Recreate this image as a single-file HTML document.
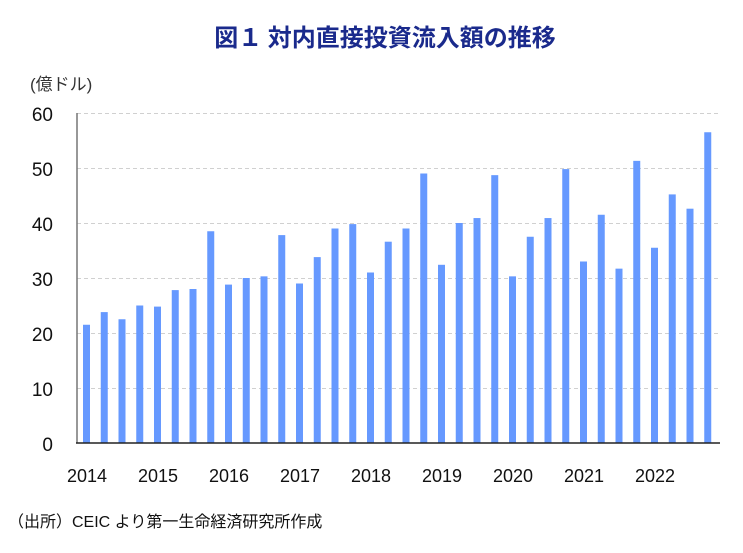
<!DOCTYPE html>
<html><head><meta charset="utf-8"><style>
body{margin:0;background:#fff;width:743px;height:548px;overflow:hidden}
</style></head><body>
<svg width="743" height="548" xmlns="http://www.w3.org/2000/svg" font-family="Liberation Sans, Noto Sans CJK JP, sans-serif">
<text x="385" y="46" text-anchor="middle" font-size="24" font-weight="bold" fill="#1a2a8c" font-family="Noto Sans CJK JP, sans-serif">図１ 対内直接投資流入額の推移</text>
<text x="30" y="90" font-size="17" fill="#333" font-family="Liberation Sans, Noto Sans CJK JP, sans-serif">(億ドル)</text>
<g stroke="#d0d0d0" stroke-dasharray="4,3" stroke-width="1">
<line x1="77" x2="720" y1="113.5" y2="113.5"/><line x1="77" x2="720" y1="168.5" y2="168.5"/><line x1="77" x2="720" y1="223.5" y2="223.5"/><line x1="77" x2="720" y1="278.5" y2="278.5"/><line x1="77" x2="720" y1="333.5" y2="333.5"/><line x1="77" x2="720" y1="388.5" y2="388.5"/>
</g>
<g font-size="19" fill="#111" text-anchor="end">
<text x="53" y="121">60</text><text x="53" y="176">50</text><text x="53" y="231">40</text><text x="53" y="286">30</text><text x="53" y="341">20</text><text x="53" y="396">10</text><text x="53" y="451">0</text>
</g>
<g fill="#6699ff">
<rect x="83" y="324.75" width="7" height="118.25"/>
<rect x="100.75" y="312.1" width="7" height="130.9"/>
<rect x="118.5" y="319.25" width="7" height="123.75"/>
<rect x="136.25" y="305.5" width="7" height="137.5"/>
<rect x="154" y="306.6" width="7" height="136.4"/>
<rect x="171.75" y="290.1" width="7" height="152.9"/>
<rect x="189.5" y="289" width="7" height="154"/>
<rect x="207.25" y="231.25" width="7" height="211.75"/>
<rect x="225" y="284.6" width="7" height="158.4"/>
<rect x="242.75" y="278" width="7" height="165"/>
<rect x="260.5" y="276.35" width="7" height="166.65"/>
<rect x="278.25" y="235.1" width="7" height="207.9"/>
<rect x="296" y="283.5" width="7" height="159.5"/>
<rect x="313.75" y="257.1" width="7" height="185.9"/>
<rect x="331.5" y="228.5" width="7" height="214.5"/>
<rect x="349.25" y="224.1" width="7" height="218.9"/>
<rect x="367" y="272.5" width="7" height="170.5"/>
<rect x="384.75" y="241.7" width="7" height="201.3"/>
<rect x="402.5" y="228.5" width="7" height="214.5"/>
<rect x="420.25" y="173.5" width="7" height="269.5"/>
<rect x="438" y="264.8" width="7" height="178.2"/>
<rect x="455.75" y="223" width="7" height="220"/>
<rect x="473.5" y="218.05" width="7" height="224.95"/>
<rect x="491.25" y="175.15" width="7" height="267.85"/>
<rect x="509" y="276.35" width="7" height="166.65"/>
<rect x="526.75" y="236.75" width="7" height="206.25"/>
<rect x="544.5" y="218.05" width="7" height="224.95"/>
<rect x="562.25" y="169.1" width="7" height="273.9"/>
<rect x="580" y="261.5" width="7" height="181.5"/>
<rect x="597.75" y="214.75" width="7" height="228.25"/>
<rect x="615.5" y="268.65" width="7" height="174.35"/>
<rect x="633.25" y="160.85" width="7" height="282.15"/>
<rect x="651" y="247.75" width="7" height="195.25"/>
<rect x="668.75" y="194.4" width="7" height="248.6"/>
<rect x="686.5" y="208.7" width="7" height="234.3"/>
<rect x="704.25" y="132.25" width="7" height="310.75"/>
</g>
<line x1="77" y1="113" x2="77" y2="443" stroke="#777" stroke-width="1.5"/>
<line x1="76" y1="443" x2="720" y2="443" stroke="#222" stroke-width="1.5"/>
<g font-size="18" fill="#111" text-anchor="middle">
<text x="87" y="482">2014</text><text x="158" y="482">2015</text><text x="229" y="482">2016</text><text x="300" y="482">2017</text><text x="371" y="482">2018</text><text x="442" y="482">2019</text><text x="513" y="482">2020</text><text x="584" y="482">2021</text><text x="655" y="482">2022</text>
</g>
<text x="8" y="527" font-size="16" fill="#111" font-family="Liberation Sans, Noto Sans CJK JP, sans-serif">（出所）CEIC より第一生命経済研究所作成</text>
</svg>
</body></html>
